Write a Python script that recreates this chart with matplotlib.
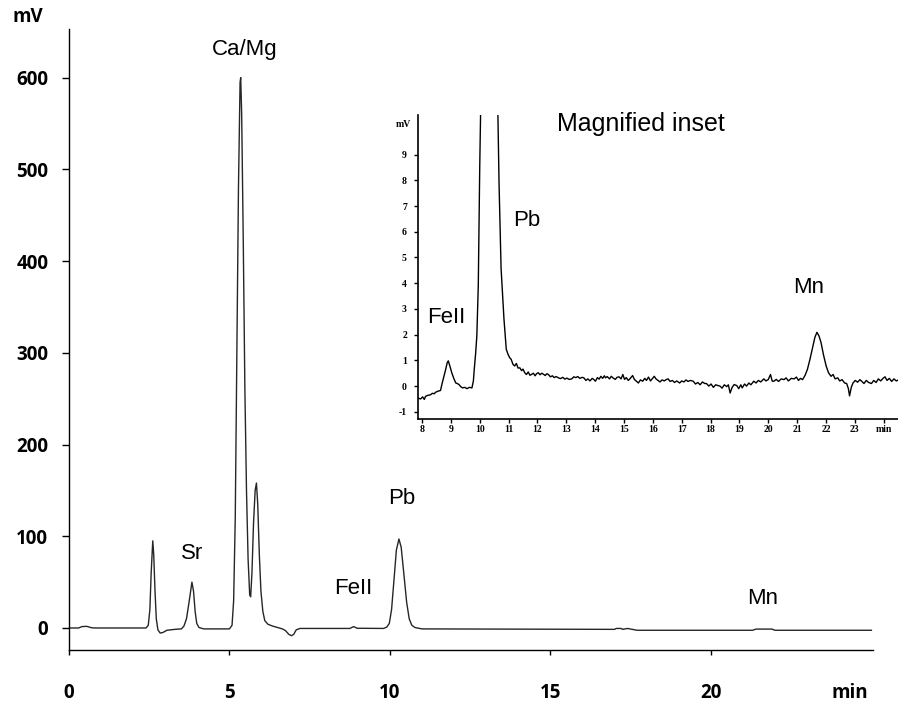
import matplotlib
matplotlib.use("Agg")
import matplotlib.pyplot as plt

# ---------------- data ----------------
# main chromatogram trace: time (min), signal (mV)
main_t = [0.0, 0.3, 0.4, 0.55, 0.7, 0.8, 2.40, 2.47, 2.52, 2.56, 2.61, 2.64, 2.68, 2.72,
          2.77, 2.84, 2.92, 3.05, 3.3, 3.5, 3.58, 3.66, 3.74, 3.83, 3.88, 3.93, 3.98, 4.05,
          4.2, 5.0, 5.08, 5.13, 5.18, 5.23, 5.28, 5.33, 5.35, 5.38, 5.43, 5.48, 5.53, 5.58,
          5.63, 5.66, 5.70, 5.75, 5.80, 5.84, 5.88, 5.93, 5.98, 6.04, 6.10, 6.2, 6.35, 6.55,
          6.65, 6.75, 6.85, 6.93, 7.0, 7.08, 7.2, 8.75, 8.87, 8.98, 9.8, 9.9, 9.98, 10.05,
          10.12, 10.2, 10.28, 10.35, 10.43, 10.52, 10.6, 10.68, 10.78, 11.0, 17.0, 17.05,
          17.2, 17.25, 17.4, 17.55, 17.7, 21.3, 21.4, 21.9, 22.0, 25.0]
main_mv = [0, 0, 1.5, 1.8, 0.3, 0, 0, 3, 20, 60, 95, 80, 40, 10,
           -2, -5.5, -5, -2.5, -1.5, -1, 2, 10, 28, 50, 40, 18, 5, 0.5,
           -1, -1, 3, 30, 120, 300, 480, 595, 600, 560, 420, 260, 150, 75,
           36, 34, 60, 115, 150, 158, 135, 80, 40, 18, 8, 4, 2, 0,
           -1, -3, -7, -8.4, -7, -2, -0.5, -0.5, 1.5, -0.3, -0.5, 1, 5, 20,
           50, 85, 97, 88, 60, 28, 10, 3, 0.5, -1, -1.5, -0.5,
           -0.5, -1.5, -0.5, -1.5, -2.5, -2.5, -1.2, -1.2, -2.5, -2.5]

# magnified inset trace: time (min), signal (mV)
inset_t = [7.86, 7.95, 8.02, 8.08, 8.12, 8.20, 8.29, 8.36, 8.42, 8.47, 8.55, 8.64, 8.70,
           8.76, 8.82, 8.87, 8.91, 8.96, 9.03, 9.10, 9.17, 9.22, 9.28, 9.34, 9.40, 9.48,
           9.56, 9.64, 9.73, 9.78, 9.81, 9.86, 9.90, 9.95, 10.00, 10.03, 10.10, 10.20,
           10.30, 10.40, 10.50, 10.60, 10.63, 10.67, 10.74, 10.84, 10.92, 10.98, 11.04,
           11.09, 11.15, 11.21, 11.27, 11.33, 11.39, 11.45, 11.50, 11.56, 11.62, 11.68,
           11.74, 11.79, 11.86, 11.92, 11.97, 12.03, 12.09, 12.15, 12.21, 12.27, 12.33,
           12.38, 12.45, 12.52, 12.58, 12.65, 12.73, 12.80, 12.88, 12.95, 13.02, 13.10,
           13.19, 13.26, 13.33, 13.40, 13.47, 13.55, 13.61, 13.68, 13.75, 13.82, 13.90,
           13.96, 14.01, 14.08, 14.14, 14.20, 14.26, 14.32, 14.36, 14.42, 14.50, 14.56,
           14.63, 14.70, 14.76, 14.83, 14.90, 14.96, 15.02, 15.08, 15.15, 15.22, 15.30,
           15.36, 15.42, 15.50, 15.57, 15.65, 15.72, 15.78, 15.85, 15.92, 15.99, 16.05,
           16.11, 16.18, 16.25, 16.32, 16.40, 16.46, 16.53, 16.60, 16.68, 16.75, 16.83,
           16.93, 17.00, 17.08, 17.15, 17.22, 17.30, 17.40, 17.48, 17.56, 17.64, 17.72,
           17.80, 17.86, 17.94, 18.02, 18.10, 18.18, 18.26, 18.33, 18.40, 18.48, 18.56,
           18.62, 18.68, 18.75, 18.82, 18.91, 18.98, 19.05, 19.10, 19.18, 19.25, 19.33,
           19.40, 19.50, 19.58, 19.66, 19.74, 19.85, 19.92, 20.00, 20.08, 20.14, 20.20,
           20.28, 20.36, 20.45, 20.55, 20.62, 20.70, 20.80, 20.90, 20.98, 21.05, 21.12,
           21.19, 21.28, 21.36, 21.45, 21.54, 21.62, 21.69, 21.76, 21.83, 21.92, 22.01,
           22.09, 22.18, 22.25, 22.32, 22.41, 22.48, 22.56, 22.65, 22.72, 22.78, 22.82,
           22.88, 22.94, 23.02, 23.10, 23.18, 23.24, 23.32, 23.40, 23.48, 23.58, 23.66,
           23.74, 23.82, 23.90, 23.98, 24.05, 24.12, 24.20, 24.28, 24.36, 24.44, 24.50]
inset_mv = [-0.47, -0.50, -0.42, -0.52, -0.40, -0.36, -0.34, -0.28, -0.30, -0.24, -0.20,
            -0.17, 0.12, 0.38, 0.65, 0.90, 0.98, 0.80, 0.52, 0.30, 0.12, 0.10, 0.06, -0.02,
            -0.07, -0.05, -0.10, -0.05, -0.07, 0.20, 0.65, 1.30, 1.96, 3.92, 8.51, 10.6,
            25, 70, 97, 75, 35, 12, 10.54, 7.85, 4.58, 2.61, 1.43, 1.24, 1.10,
            1.04, 0.85, 0.78, 0.88, 0.70, 0.71, 0.60, 0.66, 0.52, 0.45, 0.55,
            0.42, 0.45, 0.50, 0.40, 0.48, 0.52, 0.44, 0.50, 0.46, 0.41, 0.48,
            0.45, 0.36, 0.40, 0.33, 0.37, 0.32, 0.29, 0.34, 0.27, 0.31, 0.26,
            0.28, 0.36, 0.33, 0.37, 0.30, 0.34, 0.32, 0.22, 0.28, 0.20, 0.30,
            0.25, 0.19, 0.33, 0.27, 0.38, 0.30, 0.40, 0.32, 0.37, 0.28, 0.38,
            0.31, 0.26, 0.34, 0.36, 0.28, 0.45, 0.26, 0.33, 0.22, 0.30, 0.41,
            0.26, 0.20, 0.12, 0.24, 0.19, 0.30, 0.22, 0.35, 0.20, 0.30, 0.38,
            0.28, 0.22, 0.16, 0.24, 0.20, 0.25, 0.28, 0.18, 0.22, 0.14, 0.20,
            0.12, 0.20, 0.16, 0.24, 0.18, 0.22, 0.19, 0.08, 0.14, 0.05, 0.16,
            0.10, 0.10, 0.00, 0.08, -0.05, 0.05, 0.02, 0.00, -0.08, 0.05, -0.02,
            0.05, -0.27, -0.05, 0.06, 0.02, -0.10, 0.05, -0.07, 0.08, 0.00, 0.12,
            0.05, 0.19, 0.12, 0.22, 0.16, 0.28, 0.20, 0.25, 0.45, 0.19, 0.19,
            0.26, 0.18, 0.28, 0.25, 0.32, 0.20, 0.30, 0.28, 0.35, 0.22, 0.30,
            0.25, 0.42, 0.65, 1.05, 1.50, 1.90, 2.09, 1.95, 1.70, 1.20, 0.78,
            0.52, 0.38, 0.45, 0.28, 0.32, 0.20, 0.25, 0.12, 0.10, -0.10, -0.38,
            -0.05, 0.12, 0.22, 0.15, 0.25, 0.19, 0.10, 0.22, 0.14, 0.10, 0.22,
            0.14, 0.28, 0.20, 0.30, 0.36, 0.22, 0.30, 0.18, 0.28, 0.20, 0.23]

main_xticks = [0, 5, 10, 15, 20]
main_yticks = [0, 100, 200, 300, 400, 500, 600]
inset_xticks = list(range(8, 25))
inset_xlabels = [str(v) for v in range(8, 24)] + ["min"]
inset_yticks = list(range(-1, 10))

main_labels = [("Ca/Mg", 5.47, 631), ("Sr", 3.83, 81), ("FeII", 8.87, 43),
               ("Pb", 10.36, 141), ("Mn", 21.6, 32)]
inset_labels = [("FeII", 8.85, 2.68), ("Pb", 11.63, 6.45), ("Mn", 21.40, 3.82)]

# ---------------- figure ----------------
fig = plt.figure(figsize=(8.98, 7.04), dpi=100)
fig.patch.set_facecolor("white")

tick_font = dict(family="Open Sans", weight="bold", size=13.5)
label_font = dict(family="Liberation Sans", size=16)

ax = fig.add_axes([69 / 898, 1 - 650 / 704, 804 / 898, 621 / 704])
ax.plot(main_t, main_mv, color="#262626", lw=1.0)
ax.set_xlim(0, 25.05)
ax.set_ylim(-24, 653)
for s in ["top", "right"]:
    ax.spines[s].set_visible(False)
for s in ["left", "bottom"]:
    ax.spines[s].set_linewidth(1.0)
ax.set_xticks(main_xticks)
ax.set_yticks(main_yticks)
ax.set_xticklabels([str(v) for v in main_xticks], fontdict=tick_font)
ax.set_yticklabels([str(v) for v in main_yticks], fontdict=tick_font)
ax.tick_params(axis="y", direction="out", length=5, width=1, pad=10)
ax.tick_params(axis="x", direction="out", length=3.5, width=1, pad=20)
ax.text((12 - 69) / 804, 1.02, "mV", transform=ax.transAxes, ha="left", va="center", **tick_font)
ax.text((850 - 69) / 804, (650 - 693) / 621, "min", transform=ax.transAxes,
        ha="center", va="center", **tick_font)
for txt, x, y in main_labels:
    ax.text(x, y, txt, ha="center", va="center", **label_font)

# ---------------- inset ----------------
serif_font = dict(family="Liberation Serif", weight="bold", size=7)
ia = fig.add_axes([418 / 898, 1 - 419 / 704, 480 / 898, 304 / 704])
ia.patch.set_alpha(0)
ia.plot(inset_t, inset_mv, color="black", lw=1.0)
ia.set_xlim(7.86, 24.5)
ia.set_ylim(-1.28, 10.54)
for s in ["top", "right"]:
    ia.spines[s].set_visible(False)
for s in ["left", "bottom"]:
    ia.spines[s].set_linewidth(1.2)
ia.set_xticks(inset_xticks)
ia.set_xticklabels(inset_xlabels, fontdict=serif_font)
ia.set_yticks(inset_yticks)
ia.set_yticklabels([str(v) for v in inset_yticks], fontdict=serif_font)
ia.tick_params(axis="y", direction="out", length=3, width=1, pad=5)
ia.tick_params(axis="x", direction="out", length=3, width=1, pad=1)
ia.text(7.35, 10.17, "mV", ha="center", va="center", **serif_font)
ia.text(15.59, 10.19, "Magnified inset", ha="center", va="center",
        family="Liberation Sans", size=18)
for txt, x, y in inset_labels:
    ia.text(x, y, txt, ha="center", va="center", **label_font)

fig.savefig("out.png", dpi=100)
